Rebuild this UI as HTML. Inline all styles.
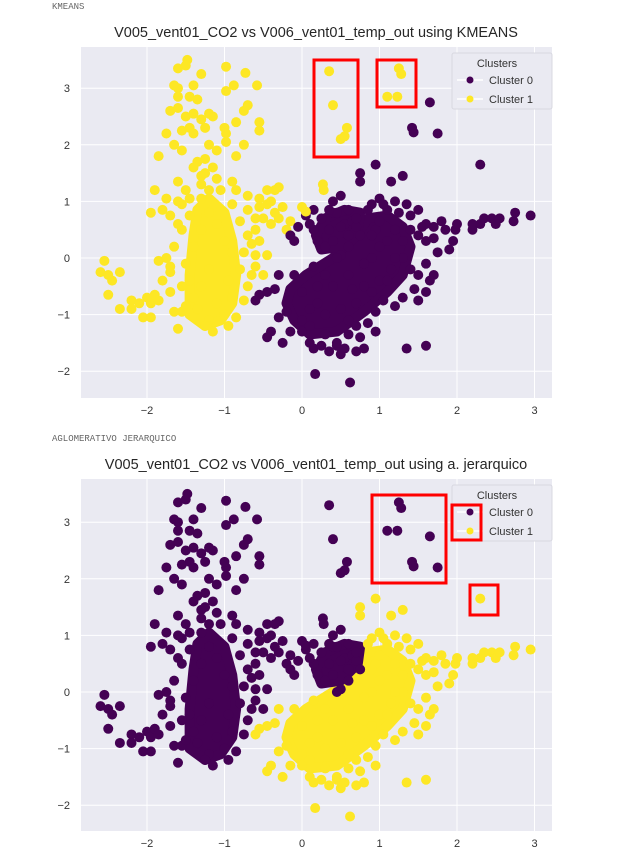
<!DOCTYPE html>
<html><head><meta charset="utf-8"><style>
body{margin:0;background:#fff;width:620px;height:859px;overflow:hidden;font-family:"Liberation Sans",sans-serif}
.lbl{position:absolute;font-family:"Liberation Mono",monospace;font-size:9px;color:#666}
</style></head><body>
<div class="lbl" style="left:52px;top:2px">KMEANS</div>
<div class="lbl" style="left:52px;top:434px">AGLOMERATIVO JERARQUICO</div>
<svg id="s" width="620" height="859" style="position:absolute;left:0;top:0"></svg>
<script>
const xs=[-1.48,-1.6,-1.5,-1.3,-0.98,-0.73,-1.65,-1.6,-1.4,-1.45,-1.35,-1.6,-1.7,-1.6,-1.5,-1.4,-1.3,-1.2,-1.15,-1.25,-1.45,-1.55,-1.75,-1.65,-1.55,-1.4,-1.2,-1.1,-1.25,-1.35,-1.4,-1.3,-0.98,-0.98,-1.0,-0.85,-0.75,-0.7,-0.98,-0.88,-0.58,-0.55,-0.55,-0.75,-0.85,-1.85,-1.6,-1.5,-1.3,-1.1,-1.2,-0.9,-0.85,-0.45,-0.3,-0.35,-1.9,-1.95,-1.8,-1.7,-1.6,-1.55,-0.7,-0.55,-0.45,-0.4,-0.4,-0.5,-0.3,-0.15,-0.2,-0.6,-0.7,-0.55,-0.6,-0.45,-0.6,-0.65,-0.5,-0.8,-1.85,-1.75,-1.7,-1.8,-2.55,-2.6,-2.5,-2.45,-2.35,-2.5,-2.35,-2.2,-2.1,-2.0,-1.95,-1.9,-1.85,-2.05,-1.95,-2.2,-1.6,-1.65,-1.55,-1.7,-1.55,-1.45,-1.7,-1.4,-1.3,-1.2,-1.1,-1.0,-0.9,-1.2,-1.3,-1.1,-1.0,-1.2,-0.9,-0.95,-1.35,-1.25,
-0.55,-0.45,-0.4,-0.45,-0.25,-0.2,-0.3,-0.1,0.0,0.1,0.15,0.25,0.35,0.45,0.5,0.55,0.7,0.8,0.75,0.85,0.7,0.6,0.17,0.62,1.35,1.6,0.95,1.05,1.2,1.3,1.45,1.5,1.6,1.7,1.65,1.4,1.3,1.7,1.75,1.85,1.9,1.95,1.98,2.0,1.8,1.6,1.5,2.2,2.3,2.35,2.45,2.5,2.55,2.73,2.75,2.95,2.2,1.2,1.35,1.1,0.9,1.0,0.95,1.1,1.2,1.0,0.9,1.15,1.0,0.8,0.7,0.5,0.3,0.1,0.0,0.2,0.4,0.6,0.8,0.95,0.75,0.75,1.15,1.3,2.3,
0.4,0.5,0.4,0.45,0.55,0.6,0.35,0.25,0.15,0.05,-0.05,0.15,0.3,0.5,0.65,0.7,0.75,0.6,-0.1,0.45,
0.35,0.4,0.58,0.5,0.55,1.25,1.28,1.1,1.23,0.27,0.28,0.0,0.05,
1.65,1.42,1.44,1.75,
-1.6,-1.55,-1.45,-1.65,-1.5,-1.4,-1.5,-1.15,-0.95,-0.85,-0.75,-0.7,-0.75,-0.65,-0.8,-0.9,-1.05,-1.3,-1.45,-0.6,-0.35,-0.25,-0.7,-0.55,-1.75,-1.25,-1.15,
-0.35,-0.6,-0.15,0.0,0.3,0.6,0.9,1.1,1.2,1.3,1.4,1.55,1.6,1.4,1.25,1.0,0.9,0.65,0.3,0.15,1.6,1.5,0.85,1.05,0.95,0.45,0.1,-0.3,0.2,1.5,1.7,
0.1,0.2,0.4,0.6,0.5,0.7,-0.15,0.35];
const ys=[3.5,3.35,3.4,3.25,3.38,3.27,3.05,3.0,3.05,2.85,2.8,2.85,2.6,2.65,2.5,2.55,2.45,2.55,2.5,2.3,2.3,2.25,2.2,2.0,1.9,2.2,2.0,1.9,1.75,1.7,1.6,1.45,2.2,2.05,2.3,2.4,2.6,2.7,2.95,3.05,3.05,2.4,2.25,2.0,1.8,1.8,1.35,1.2,1.3,1.4,1.2,1.35,1.2,1.2,1.25,1.2,1.2,0.8,0.85,0.75,0.6,0.95,0.85,0.9,0.95,1.0,0.6,0.7,0.7,0.65,0.5,0.5,0.4,0.3,0.05,0.05,-0.15,-0.3,-0.3,-0.2,-0.05,0.0,-0.15,-0.4,-0.05,-0.25,-0.3,-0.4,-0.25,-0.65,-0.9,-0.75,-0.8,-0.7,-0.8,-0.65,-0.75,-1.05,-1.05,-0.9,-1.25,-0.95,-0.95,-0.6,-0.5,-0.4,-0.25,0.2,0.5,0.8,0.6,0.3,0.1,-0.2,-0.5,-0.8,-1.0,-1.1,-0.7,-0.4,-0.9,-1.2,
-0.65,-0.6,-1.3,-1.4,-1.5,-0.95,-0.3,-0.3,-1.3,-1.5,-1.6,-1.55,-1.65,-1.55,-1.7,-1.6,-1.65,-1.6,-1.4,-1.15,-1.2,-1.35,-2.05,-2.2,-1.6,-1.55,-0.95,-0.75,-0.85,-0.7,-0.55,-0.3,-0.1,-0.3,-0.4,-0.2,0.0,0.35,0.1,0.5,0.15,0.3,0.5,0.6,0.65,0.6,0.4,0.5,0.6,0.7,0.7,0.6,0.7,0.65,0.8,0.75,0.6,1.0,0.95,0.85,0.95,1.05,0.5,0.3,0.5,0.2,0.0,-0.2,-0.4,-0.5,-0.8,-0.9,-1.0,-0.9,-0.6,-0.5,-0.5,-0.3,-0.1,1.65,1.5,1.35,1.35,1.45,1.65,
1.0,1.1,0.8,0.8,0.6,0.4,0.5,0.7,0.85,0.75,0.55,0.5,0.2,0.05,0.65,0.55,0.4,0.2,0.3,0.0,
3.3,2.7,2.3,2.1,2.15,3.35,3.25,2.85,2.85,1.3,1.2,0.9,0.82,
2.75,2.3,2.22,2.2,
1.0,0.5,0.75,0.2,-0.1,-0.7,-0.85,-1.3,-1.2,-1.05,-0.75,-0.5,0.1,0.25,0.65,0.95,1.2,1.05,1.05,0.7,0.8,0.9,1.1,1.05,1.05,1.5,1.6,
-0.55,-0.75,-1.3,-1.1,-1.35,-1.1,-0.6,-0.4,0.0,0.3,0.5,0.55,0.3,0.75,0.8,0.65,0.4,-0.55,-0.3,-0.15,-0.6,-0.75,0.85,0.95,-1.3,-1.5,-1.2,-1.05,-0.8,0.85,0.55,
0.6,0.3,0.3,0.85,0.55,0.7,0.4,0.85];
const kmeansLabels=[].concat(Array(122).fill(1),Array(85).fill(0),Array(20).fill(0),Array(13).fill(1),Array(4).fill(0),Array(27).fill(1),Array(31).fill(0),Array(8).fill(0));
const aggloLabels=[].concat(Array(122).fill(0),Array(85).fill(1),Array(20).fill(0),Array(13).fill(0),Array(4).fill(0),Array(27).fill(0),Array(31).fill(1),Array(8).fill(0));
const coreLeft=[[-1.45,-1.0],[-1.25,-1.2],[-1.05,-1.1],[-0.9,-0.8],[-0.85,-0.3],[-0.9,0.3],[-1.0,0.8],[-1.2,1.05],[-1.35,0.85],[-1.4,0.4],[-1.45,-0.3]];
const coreRightLower=[[-0.2,-0.8],[-0.1,-1.1],[0.1,-1.35],[0.45,-1.3],[0.8,-0.95],[1.1,-0.6],[1.3,-0.3],[1.4,0.2],[1.3,0.55],[1.1,0.75],[0.85,0.7],[0.7,0.4],[0.4,0.0],[0.05,-0.3],[-0.15,-0.55]];
const coreRightUpper=[[0.25,0.15],[0.5,0.2],[0.72,0.5],[0.75,0.8],[0.55,0.85],[0.3,0.7],[0.18,0.4]];
const coreKm=[1,0,0], coreAgg=[0,1,0];
const xTicks=[-2,-1,0,1,2,3], yTicks=[-2,-1,0,1,2,3];
const COLS=['#440154','#fde725'];
const NS='http://www.w3.org/2000/svg', svg=document.getElementById('s');
function mk(t,a,p){const e=document.createElementNS(NS,t);for(const k in a)e.setAttribute(k,a[k]);(p||svg).appendChild(e);return e;}
function panel(cfg){
  const g=mk('g',{});
  
  
  const X=v=>302+v*77.5, Y=v=>cfg.y0-v*56.6;
  const bg=mk('rect',{x:81,y:cfg.top,width:471,height:cfg.bottom-cfg.top,fill:'#eaeaf2'},g);
  
  xTicks.forEach(t=>{mk('line',{x1:X(t),x2:X(t),y1:cfg.top,y2:cfg.bottom,stroke:'#fff','stroke-width':1},g);
    const tx=mk('text',{x:X(t),y:cfg.bottom+16,'text-anchor':'middle','font-size':11,fill:'#333'},g);tx.textContent=t<0?'\u2212'+(-t):t;
    });
  yTicks.forEach(t=>{mk('line',{x1:81,x2:552,y1:Y(t),y2:Y(t),stroke:'#fff','stroke-width':1},g);
    const tx=mk('text',{x:70,y:Y(t)+4,'text-anchor':'end','font-size':11,fill:'#333'},g);tx.textContent=t<0?'\u2212'+(-t):t;
    });
  [coreLeft,coreRightLower,coreRightUpper].forEach((h,i)=>{
    const c=COLS[cfg.core[i]];
    const p=mk('polygon',{points:h.map(q=>X(q[0])+','+Y(q[1])).join(' '),fill:c,stroke:c,'stroke-width':10,'stroke-linejoin':'round'},g);
    });
  xs.forEach((x,i)=>{const c=mk('circle',{cx:X(x),cy:Y(ys[i]),r:5,fill:COLS[cfg.labels[i]]},g);
    });
  const ti=mk('text',{x:316,y:cfg.top-10,'text-anchor':'middle','font-size':14.5,fill:'#262626'},g);ti.textContent=cfg.title;
  
  const L=cfg.top+6;
  const lg=mk('g',{},g);
  mk('rect',{x:452,y:L,width:100,height:56,fill:'#eaeaf2',stroke:'#d8d8e0',rx:2},lg);
  let t=mk('text',{x:497,y:L+14,'text-anchor':'middle','font-size':11,fill:'#333'},lg);t.textContent='Clusters';
  ['Cluster 0','Cluster 1'].forEach((n,i)=>{const yy=L+27+i*19;
    mk('line',{x1:457,x2:483,y1:yy,y2:yy,stroke:'#fff','stroke-width':1.5},lg);
    mk('circle',{cx:470,cy:yy,r:3.5,fill:COLS[i]},lg);
    const e=mk('text',{x:489,y:yy+4,'font-size':11,fill:'#333'},lg);e.textContent=n;
    });
  cfg.boxes.forEach(b=>{const r=mk('rect',{x:b[0],y:b[1],width:b[2],height:b[3],fill:'none',stroke:'#f00','stroke-width':3},g);
    });
}
panel({name:'kmeans-chart',top:47,bottom:398,y0:258,labels:kmeansLabels,core:coreKm,title:'V005_vent01_CO2 vs V006_vent01_temp_out using KMEANS',
  boxes:[[314,60,44,97],[377,60,39,47]]});
panel({name:'agglomerative-chart',top:479,bottom:831,y0:692,labels:aggloLabels,core:coreAgg,title:'V005_vent01_CO2 vs V006_vent01_temp_out using a. jerarquico',
  boxes:[[372,495,74,88],[452,505,29,35],[470,585,28,30]]});
</script>
</body></html>
